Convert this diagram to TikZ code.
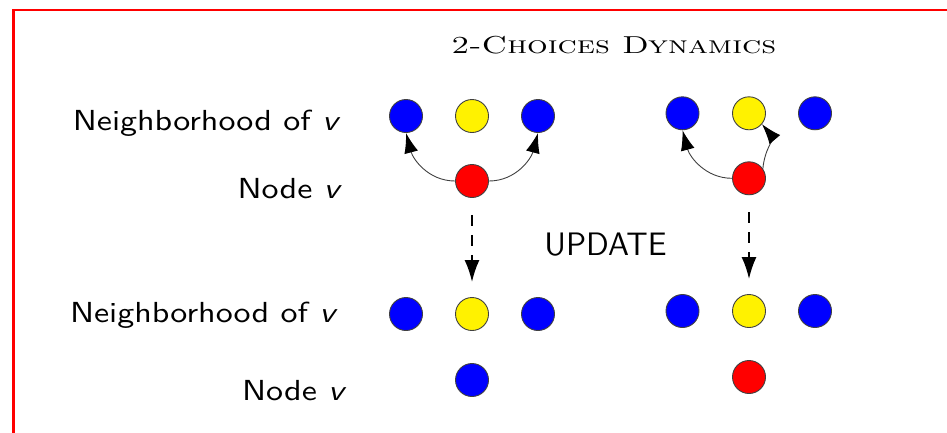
\documentclass[tikz,border=0pt]{standalone}
\usetikzlibrary{arrows.meta}
\newcommand{\lblbox}[1]{\scalebox{3.4}[2.9]{\fontsize{10}{12}\selectfont\sffamily #1}}
\begin{document}
\begin{tikzpicture}[x=1pt,y=-1pt,
  dot/.style={circle,draw=black!75,line width=0.9pt,minimum size=33pt,inner sep=0pt},
  blu/.style={dot,fill=blue},
  yel/.style={dot,fill=yellow},
  rd/.style={dot,fill=red},
  lbl/.style={inner sep=0pt,anchor=base},
  pick/.style={draw=black!75,line width=0.9pt,-{Latex[length=20pt,width=14pt,black]}},
  upd/.style={line width=2pt,dash pattern=on 11pt off 9pt,-{Latex[length=22pt,width=15pt]},shorten <=17pt,shorten >=15pt}]
\path[use as bounding box] (0,0) rectangle (947,432);
\clip (0,0) rectangle (947,432);
\draw[red,line width=2.8pt] (13.7,10) rectangle (1000,500);

% title and labels
\node[lbl] (title) at (613.8,53) {\scalebox{3.25}[2.45]{\fontsize{10}{12}\selectfont\textsc{2-Choices Dynamics}}};
\node[lbl] (n1) at (205.3,130) {\lblbox{Neighborhood of {\slshape v}}};
\node[lbl] (v1) at (288.5,198.3) {\lblbox{Node {\slshape v}}};
\node[lbl] (n2) at (202.5,322.7) {\lblbox{Neighborhood of {\slshape v}}};
\node[lbl] (v2) at (293,400.7) {\lblbox{Node {\slshape v}}};
\node[lbl] (upd) at (605.5,255) {\scalebox{3.15}[3.25]{\fontsize{10}{12}\selectfont\sffamily UPDATE}};

% left group
\node[blu] (a1) at (406,116) {};
\node[yel] (a2) at (472,116) {};
\node[blu] (a3) at (538,116) {};
\node[rd]  (ar) at (472,181) {};
\node[blu] (b1) at (406,314) {};
\node[yel] (b2) at (472,314) {};
\node[blu] (b3) at (538,314) {};
\node[blu] (br) at (472,380) {};

% right group
\node[blu] (c1) at (682.5,113.3) {};
\node[yel] (c2) at (749,113.3) {};
\node[blu] (c3) at (815,113.3) {};
\node[rd]  (cr) at (749,178.3) {};
\node[blu] (d1) at (682.5,311) {};
\node[yel] (d2) at (749,311) {};
\node[blu] (d3) at (815,311) {};
\node[rd]  (dr) at (749,377) {};

% choices
\draw[pick] (ar.west) to[out=180,in=-75] (a1.south);
\draw[pick] (ar.east) to[out=0,in=-105] (a3.south);
\draw[pick] (cr.west) to[out=180,in=-75] (c1.south);
\draw[pick] (cr.35) to[out=85,in=-50] (c2.-40);

% updates
\draw[upd] (ar) -- (b2);
\draw[upd] (cr) -- (d2);
\end{tikzpicture}
\end{document}
